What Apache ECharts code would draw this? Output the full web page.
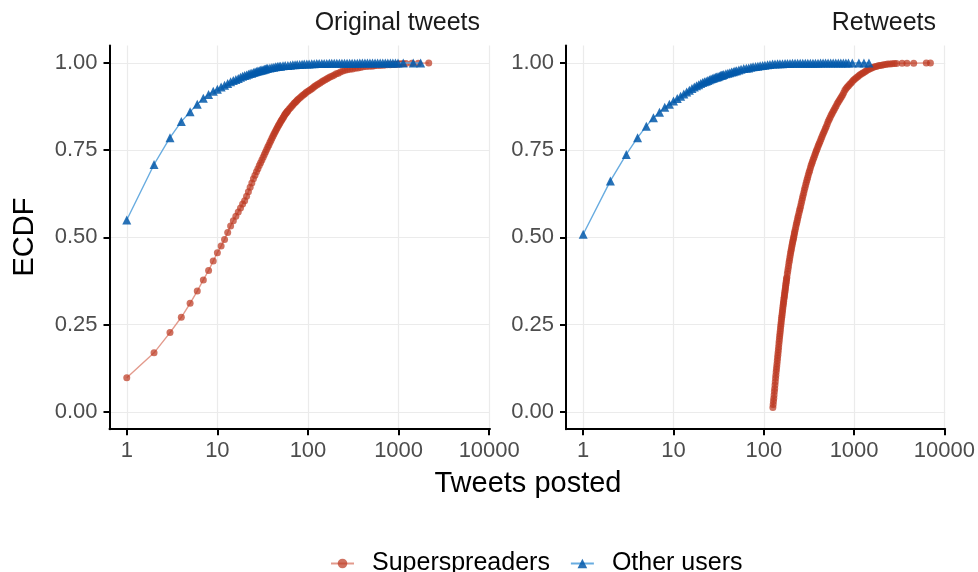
<!DOCTYPE html>
<html><head><meta charset="utf-8">
<script src="https://cdn.jsdelivr.net/npm/echarts@6/dist/echarts.min.js"></script>
<style>html,body{margin:0;padding:0;background:#fff}#c{width:978px;height:572px}</style>
</head><body><div id="c"></div>
<script>
const panelTitles = ['Original tweets', 'Retweets'];
const seriesNames = ['Superspreaders', 'Other users'];
const xTicks = [1, 10, 100, 1000, 10000];
const yTicks = [0, 0.25, 0.5, 0.75, 1];
const xAxisTitle = 'Tweets posted';
const yAxisTitle = 'ECDF';

// Original tweets — Superspreaders
const origSuperX = [1,2,3,4,5,6,7,8,9,10,11,12,13,14,15,16,17,18,19,20,21,22,23,24,25,26,27,28,29,30,31,32,33,34,35,36,37,38,39,40,41,42,43,44,45,46,47,48,49,50,51,52,53,54,55,56,57,58,59,60,62,64,66,68,70,72,74,76,78,81,84,87,90,93,96,100,104,108,112,116,120,125,130,136,142,148,155,162,169,177,186,195,205,216,228,242,256,272,290,310,332,355,380,408,440,475,510,540,580,630,690,750,810,870,930,990,1050,1120,1205,1400,1650,2150];
const origSuperY = [0.0975,0.169,0.227,0.271,0.311,0.346,0.378,0.405,0.432,0.456,0.475,0.494,0.514,0.533,0.548,0.561,0.573,0.584,0.596,0.605,0.618,0.631,0.644,0.656,0.668,0.678,0.688,0.697,0.706,0.714,0.722,0.730,0.738,0.745,0.752,0.759,0.765,0.772,0.778,0.784,0.790,0.796,0.801,0.806,0.811,0.815,0.820,0.824,0.828,0.832,0.836,0.839,0.843,0.846,0.850,0.853,0.856,0.858,0.861,0.863,0.868,0.872,0.876,0.880,0.884,0.887,0.890,0.893,0.896,0.900,0.903,0.907,0.910,0.913,0.916,0.919,0.922,0.925,0.928,0.931,0.934,0.937,0.940,0.943,0.946,0.949,0.952,0.955,0.958,0.961,0.963,0.966,0.969,0.971,0.974,0.977,0.979,0.981,0.982,0.983,0.985,0.986,0.987,0.989,0.990,0.991,0.991,0.992,0.993,0.993,0.994,0.995,0.995,0.996,0.996,0.997,0.998,0.998,0.999,0.9993,0.9996,1.0];

// Original tweets — Other users
const origOtherX = [1,2,3,4,5,6,7,8,9,10,11,12,13,14,15,16,17,18,19,20,21,22,23,24,25,26,27,28,29,30,31,32,33,34,35,36,38,40,42,44,46,48,50,53,56,60,64,68,72,76,81,86,91,97,103,110,117,125,133,142,151,161,172,183,195,208,222,237,253,270,288,307,328,350,373,398,425,453,483,515,550,587,626,668,713,760,811,865,923,985,1125,1450,1750];
const origOtherY = [0.550,0.709,0.786,0.832,0.860,0.882,0.899,0.910,0.919,0.925,0.931,0.936,0.941,0.946,0.950,0.953,0.956,0.959,0.962,0.964,0.966,0.968,0.970,0.971,0.973,0.974,0.976,0.977,0.978,0.979,0.980,0.981,0.982,0.983,0.984,0.985,0.986,0.987,0.988,0.989,0.990,0.991,0.991,0.992,0.993,0.993,0.994,0.995,0.995,0.996,0.996,0.9965,0.997,0.997,0.9975,0.998,0.998,0.9984,0.9986,0.9987,0.9989,0.999,0.9991,0.9992,0.9993,0.9993,0.9994,0.9995,0.9995,0.9996,0.9996,0.9997,0.9997,0.9997,0.9998,0.9998,0.9998,0.9998,0.9999,0.9999,0.9999,0.9999,0.9999,0.9999,1,1,1,1,1,1,1,1,1];

// Retweets — Superspreaders
const rtSuperX = [126,127,128,129,130,131,132,133,134,135,136,137,138,139,140,141,142,143,144,145,146,147,148,149,150,151,152,153,154,155,156,157,158,159,160,161,162,163,164,165,166,167,168,169,170,171,172,173,174,175,176,177,178,179,180,182,184,186,188,190,192,194,196,198,200,202,204,206,208,210,212,214,216,218,220,223,226,229,232,235,238,241,245,249,252,256,260,264,268,272,277,281,286,291,296,301,306,311,317,322,328,334,340,346,353,360,367,374,381,388,396,404,412,421,430,439,449,459,470,481,492,504,516,529,542,556,570,585,600,616,632,649,667,686,705,725,745,767,790,815,840,867,895,925,955,987,1020,1057,1095,1135,1175,1220,1265,1315,1365,1420,1480,1545,1610,1685,1760,1845,1930,2025,2120,2235,2350,2490,2630,2790,2950,3400,3850,4570,6300,7000];
const rtSuperY = [0.012,0.021,0.030,0.039,0.048,0.058,0.067,0.077,0.086,0.096,0.105,0.114,0.122,0.130,0.138,0.146,0.154,0.162,0.170,0.178,0.186,0.194,0.202,0.210,0.217,0.224,0.231,0.238,0.245,0.252,0.258,0.265,0.271,0.277,0.283,0.289,0.295,0.301,0.307,0.312,0.317,0.323,0.328,0.333,0.338,0.343,0.348,0.353,0.358,0.363,0.368,0.372,0.377,0.382,0.386,0.395,0.403,0.411,0.419,0.427,0.434,0.441,0.448,0.455,0.461,0.467,0.473,0.479,0.485,0.490,0.495,0.500,0.505,0.511,0.516,0.523,0.530,0.537,0.543,0.549,0.556,0.562,0.570,0.577,0.583,0.590,0.598,0.606,0.613,0.620,0.628,0.636,0.643,0.651,0.658,0.665,0.672,0.679,0.686,0.692,0.699,0.706,0.712,0.718,0.724,0.730,0.736,0.742,0.748,0.753,0.759,0.765,0.770,0.776,0.782,0.788,0.794,0.800,0.806,0.812,0.818,0.825,0.832,0.838,0.844,0.850,0.855,0.861,0.866,0.872,0.877,0.883,0.888,0.893,0.898,0.903,0.908,0.915,0.922,0.927,0.931,0.935,0.939,0.943,0.947,0.951,0.954,0.958,0.961,0.964,0.967,0.970,0.972,0.975,0.978,0.981,0.983,0.985,0.987,0.989,0.990,0.992,0.993,0.994,0.995,0.996,0.997,0.9975,0.998,0.9985,0.999,0.9993,0.9995,0.9997,0.9999,1.0];

// Retweets — Other users
const rtOtherX = [1,2,3,4,5,6,7,8,9,10,11,12,13,14,15,16,17,18,19,20,21,22,23,24,25,26,27,28,29,30,31,32,33,34,35,36,38,40,42,44,46,48,50,53,56,60,64,68,72,76,81,86,91,97,103,110,117,125,133,142,151,161,172,183,195,208,222,237,253,270,288,307,328,350,373,398,425,453,483,515,550,587,626,668,713,760,811,865,955,1130,1285,1460];
const rtOtherY = [0.509,0.662,0.738,0.786,0.819,0.843,0.859,0.873,0.882,0.891,0.898,0.905,0.911,0.917,0.922,0.927,0.931,0.935,0.938,0.941,0.944,0.946,0.948,0.950,0.952,0.954,0.956,0.957,0.959,0.960,0.961,0.962,0.964,0.965,0.966,0.967,0.969,0.971,0.972,0.974,0.975,0.977,0.978,0.980,0.982,0.984,0.985,0.986,0.988,0.989,0.990,0.991,0.992,0.993,0.994,0.995,0.996,0.997,0.9973,0.9977,0.998,0.9983,0.9986,0.9988,0.999,0.9991,0.9992,0.9993,0.9994,0.9995,0.9995,0.9996,0.9996,0.9997,0.9997,0.9997,0.9998,0.9998,0.9998,0.9999,0.9999,0.9999,0.9999,0.9999,1,1,1,1,1,1,1,1];

const FONT = '"Liberation Sans", Arial, Helvetica, sans-serif';
const RED = '#bd3a22', RED_LINE = '#e39a8c';
const BLUE = '#0459aa', BLUE_LINE = '#68ace0';

function pairs(xs, ys) { return xs.map((x, i) => [x, ys[i]]); }

function mkSeries(name, xs, ys, gi, isSuper) {
  return {
    type: 'line', name: name, xAxisIndex: gi, yAxisIndex: gi,
    data: pairs(xs, ys),
    symbol: isSuper ? 'circle' : 'triangle',
    symbolSize: isSuper ? 7 : 9,
    showAllSymbol: true,
    itemStyle: { color: isSuper ? RED : BLUE, opacity: isSuper ? 0.72 : 0.85 },
    lineStyle: { color: isSuper ? RED_LINE : BLUE_LINE, width: 1.4 },
    emphasis: { disabled: true },
    z: isSuper ? 2 : 3
  };
}

const grids = [
  { left: 109.5, top: 45.6, width: 380.5, height: 383.6 },
  { left: 566, top: 45.6, width: 380.5, height: 383.6 }
];

function mkX(gi) {
  return {
    type: 'log', logBase: 10, gridIndex: gi, min: 0.645, max: 10200,
    axisLine: { show: true, onZero: false, lineStyle: { color: '#000', width: 2 } },
    axisTick: { show: true, length: 6, customValues: xTicks, lineStyle: { color: '#000', width: 2 } },
    axisLabel: { customValues: xTicks, fontSize: 22, color: '#4d4d4d', fontFamily: FONT, margin: 11,
      formatter: v => String(Math.round(v)) },
    splitLine: { show: true, lineStyle: { color: '#ebebeb', width: 1.2 } },
    minorSplitLine: { show: false }
  };
}
function mkY(gi) {
  return {
    type: 'value', gridIndex: gi, min: -0.05, max: 1.05,
    axisLine: { show: true, onZero: false, lineStyle: { color: '#000', width: 2 } },
    axisTick: { show: true, length: 6, customValues: yTicks, lineStyle: { color: '#000', width: 2 } },
    axisLabel: { customValues: yTicks, fontSize: 22, color: '#4d4d4d', fontFamily: FONT, margin: 12,
      formatter: v => Number(v).toFixed(2) },
    splitLine: { show: true, lineStyle: { color: '#ebebeb', width: 1.2 } }
  };
}

const option = {
  animation: false,
  backgroundColor: '#fff',
  grid: grids,
  xAxis: [mkX(0), mkX(1)],
  yAxis: [mkY(0), mkY(1)],
  legend: {
    data: seriesNames, left: 325, top: 546, itemWidth: 23, itemHeight: 12, itemGap: 20,
    textStyle: { fontSize: 25, color: '#000', fontFamily: FONT, padding: [0, 0, 0, 13] },
    selectedMode: false
  },
  graphic: [
    { type: 'text', x: 480, y: 23, style: { text: panelTitles[0], fill: '#1a1a1a', font: '25px ' + FONT, textAlign: 'right', textVerticalAlign: 'middle' } },
    { type: 'text', x: 936, y: 23, style: { text: panelTitles[1], fill: '#1a1a1a', font: '25px ' + FONT, textAlign: 'right', textVerticalAlign: 'middle' } },
    { type: 'text', x: 528, y: 484, style: { text: xAxisTitle, fill: '#000', font: '29px ' + FONT, textAlign: 'center', textVerticalAlign: 'middle' } },
    { type: 'text', x: 25, y: 237, rotation: Math.PI / 2, style: { text: yAxisTitle, fill: '#000', font: '29px ' + FONT, textAlign: 'center', textVerticalAlign: 'middle' } }
  ],
  series: [
    mkSeries(seriesNames[0], origSuperX, origSuperY, 0, true),
    mkSeries(seriesNames[1], origOtherX, origOtherY, 0, false),
    mkSeries(seriesNames[0], rtSuperX, rtSuperY, 1, true),
    mkSeries(seriesNames[1], rtOtherX, rtOtherY, 1, false)
  ]
};
const chart = echarts.init(document.getElementById('c'), null, { renderer: 'canvas' });
chart.setOption(option);
</script></body></html>
